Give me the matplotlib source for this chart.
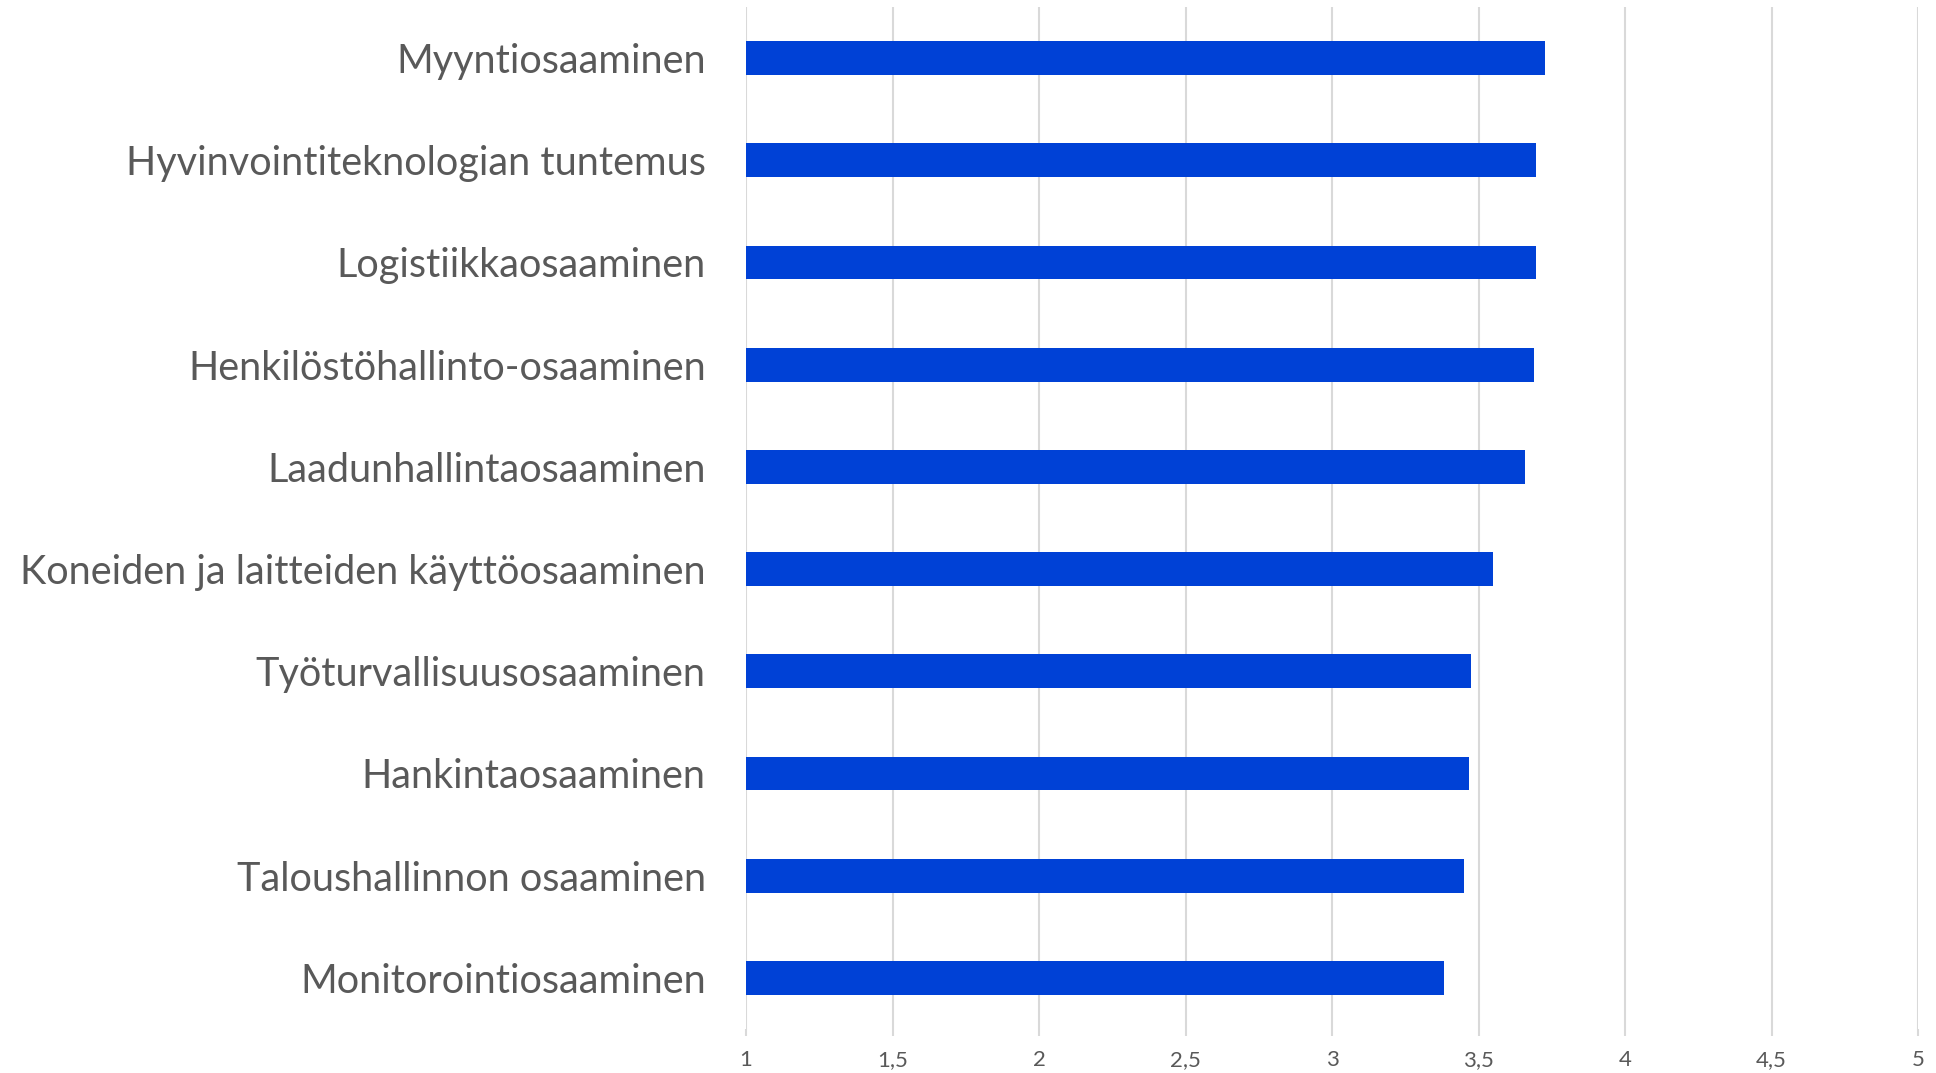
import matplotlib
matplotlib.use("Agg")
import matplotlib.pyplot as plt
from matplotlib.ticker import FuncFormatter

# categories top to bottom, mean scores
categories = [
    "Myyntiosaaminen",
    "Hyvinvointiteknologian tuntemus",
    "Logistiikkaosaaminen",
    "Henkilöstöhallinto-osaaminen",
    "Laadunhallintaosaaminen",
    "Koneiden ja laitteiden käyttöosaaminen",
    "Työturvallisuusosaaminen",
    "Hankintaosaaminen",
    "Taloushallinnon osaaminen",
    "Monitorointiosaaminen",
]
values = [3.726, 3.695, 3.695, 3.689, 3.657, 3.551, 3.474, 3.467, 3.451, 3.383]
xticks = [1, 1.5, 2, 2.5, 3, 3.5, 4, 4.5, 5]

bar_color = "#0041D6"
text_color = "#595959"
grid_color = "#D9D9D9"

plt.rcParams["font.family"] = ["Lato", "DejaVu Sans"]

fig = plt.figure(figsize=(19.36, 10.73), dpi=100)
ax = fig.add_axes([746 / 1936, 1 - 1029 / 1073, 1172 / 1936, 1022 / 1073])

pos = list(range(len(categories)))
ax.barh(pos, [v - 1 for v in values], left=1, height=0.33, color=bar_color, zorder=3)

ax.set_xlim(1, 5)
ax.set_ylim(len(categories) - 0.5, -0.5)
ax.set_xticks(xticks)
ax.xaxis.set_major_formatter(FuncFormatter(lambda v, p: ("%g" % v).replace(".", ",")))
ax.set_yticks(pos)
ax.set_yticklabels(categories)

ax.grid(axis="x", color=grid_color, linewidth=1.5, zorder=0)
for s in ax.spines.values():
    s.set_visible(False)

ax.tick_params(axis="y", length=0, pad=29, labelsize=28.5, labelcolor=text_color)
ax.tick_params(axis="x", length=5, width=1.5, color=grid_color, pad=10,
               labelsize=16, labelcolor=text_color)

fig.savefig("out.png", dpi=100, facecolor="white")
